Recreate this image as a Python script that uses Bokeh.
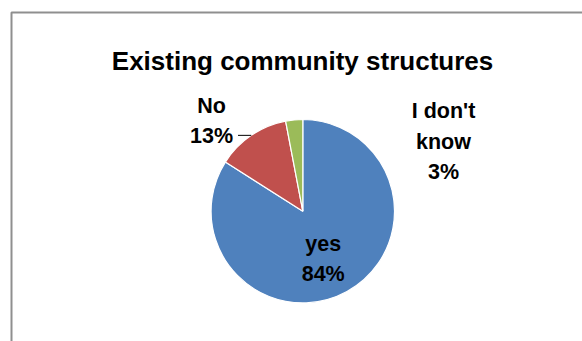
import math
from bokeh.plotting import figure
from bokeh.models import Range1d, ColumnDataSource
from bokeh.core.properties import value
from bokeh.embed import file_html
from bokeh.resources import INLINE

# ---- data ----
categories = ["yes", "No", "I don't know"]
values = [84, 13, 3]
colors = ["#4F81BD", "#C0504D", "#9BBB59"]
title_text = "Existing community structures"

W, H = 582, 341
p = figure(width=W, height=H, output_backend="svg", toolbar_location=None,
           x_range=Range1d(0, W), y_range=Range1d(0, H), min_border=0)
p.axis.visible = False
p.grid.visible = False
p.outline_line_color = None
p.background_fill_color = "white"
p.border_fill_color = "white"

def Y(y):
    return H - y

# chart frame
p.quad(left=[11], right=[W + 20], top=[Y(12)], bottom=[-20],
       fill_color=None, line_color="#8f8f8f", line_width=2)

# pie
cx, cy, r = 302.3, 210.7, 91.7
total = sum(values)
starts, ends = [], []
cum = 0
for v in values:
    a0 = cum / total
    cum += v
    a1 = cum / total
    # clockwise from 12 o'clock
    starts.append(math.radians(90 - a1 * 360))
    ends.append(math.radians(90 - a0 * 360))
src = ColumnDataSource(dict(start=starts, end=ends, color=colors))
p.wedge(x=cx, y=Y(cy), radius=r, start_angle="start", end_angle="end",
        fill_color="color", line_color="white", line_width=1.2, source=src)

# labels
pct = [f"{v}%" for v in values]
lab_lines = [
    [categories[0], pct[0]],
    [categories[1], pct[1]],
    ["I don't", "know", pct[2]],
]
lab_pos = [(322.7, [243.5, 273.5]), (211.0, [105.0, 135.0]), (443.0, [110.7, 141.3, 171.7])]
tx, ty, tt = [], [], []
for lines, (x, ys) in zip(lab_lines, lab_pos):
    for s, y in zip(lines, ys):
        tx.append(x); ty.append(Y(y)); tt.append(s)
p.text(x=tx, y=ty, text=tt, text_font=value("Liberation Sans"),
       text_font_style="bold", text_font_size="21.5px", text_color="black",
       text_align="center", text_baseline="alphabetic")

# leader line for "No"
mid_no = (values[0] + values[1] / 2) / total
ang = math.radians(90 - mid_no * 360)
ex, ey = cx + r * math.cos(ang), cy - r * math.sin(ang)
p.segment(x0=[237.5], y0=[Y(ey)], x1=[ex], y1=[Y(ey)], line_color="black", line_width=1)

# title
p.text(x=[302.0], y=[Y(60.7)], text=[title_text], text_font=value("Liberation Sans"),
       text_font_style="bold", text_font_size="26px", text_color="black",
       text_align="center", text_baseline="alphabetic")

open("out.html", "w").write(file_html(p, INLINE))
